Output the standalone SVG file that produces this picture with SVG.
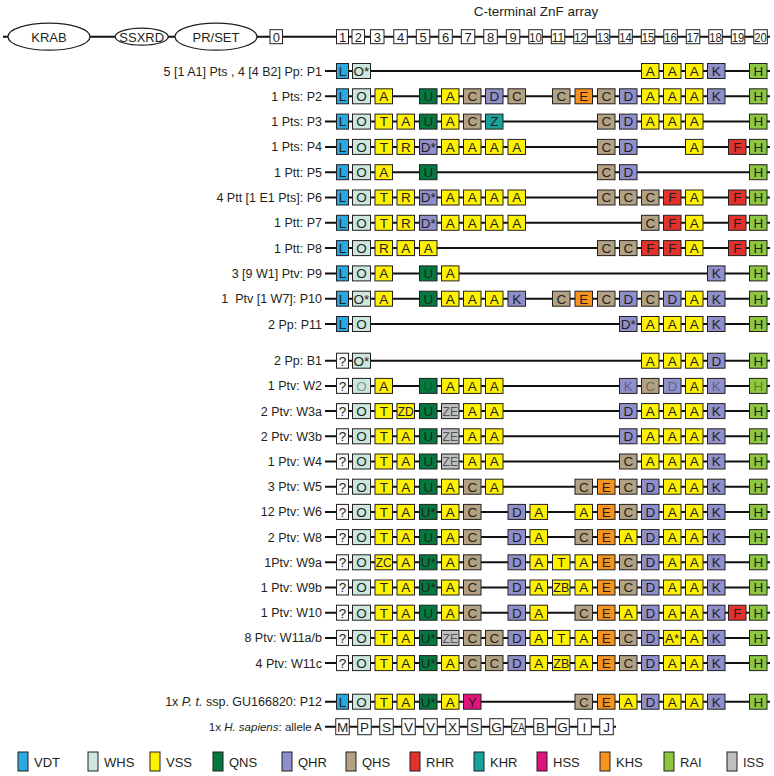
<svg xmlns="http://www.w3.org/2000/svg" width="774" height="776" viewBox="0 0 774 776">
<style>
text{font-family:"Liberation Sans",Arial,sans-serif;fill:#231f20}
.lab{font-size:12.5px;text-anchor:end}
.t{font-size:13.5px;text-anchor:middle}
.h{font-size:13px;text-anchor:middle}
rect{stroke:#231f20;stroke-width:1}
.ln{stroke:#111;stroke-width:2;fill:none}
.vdt{fill:#29a9e0}.whs{fill:#cbe7df}.vss{fill:#fff200}.qns{fill:#04793f}.qhr{fill:#8f8fcb}.qhs{fill:#b3a184}.rhr{fill:#e3312c}.khr{fill:#17a39b}.hss{fill:#e3137c}.khs{fill:#f7941d}.rai{fill:#8dc63f}.iss{fill:#bdbfc1}.unk{fill:#f7f7f7}.wht{fill:#fff}
.f{fill-opacity:.45}.g{fill:#555}
.ell{fill:#fff;stroke:#231f20;stroke-width:1.2}
.leg{font-size:13px}
</style>
<g id="connectors">
<line class="ln" x1="3" y1="36.7" x2="770" y2="36.7"/>
<line class="ln" x1="325" y1="71" x2="770" y2="71"/>
<line class="ln" x1="325" y1="96.3" x2="770" y2="96.3"/>
<line class="ln" x1="325" y1="121.6" x2="770" y2="121.6"/>
<line class="ln" x1="325" y1="146.9" x2="770" y2="146.9"/>
<line class="ln" x1="325" y1="172.2" x2="770" y2="172.2"/>
<line class="ln" x1="325" y1="197.5" x2="770" y2="197.5"/>
<line class="ln" x1="325" y1="222.8" x2="770" y2="222.8"/>
<line class="ln" x1="325" y1="248.1" x2="770" y2="248.1"/>
<line class="ln" x1="325" y1="273.4" x2="770" y2="273.4"/>
<line class="ln" x1="325" y1="298.7" x2="770" y2="298.7"/>
<line class="ln" x1="325" y1="324" x2="770" y2="324"/>
<line class="ln" x1="325" y1="360.7" x2="770" y2="360.7"/>
<line class="ln" x1="325" y1="385.9" x2="770" y2="385.9"/>
<line class="ln" x1="325" y1="411.1" x2="770" y2="411.1"/>
<line class="ln" x1="325" y1="436.3" x2="770" y2="436.3"/>
<line class="ln" x1="325" y1="461.5" x2="770" y2="461.5"/>
<line class="ln" x1="325" y1="486.7" x2="770" y2="486.7"/>
<line class="ln" x1="325" y1="511.9" x2="770" y2="511.9"/>
<line class="ln" x1="325" y1="537.1" x2="770" y2="537.1"/>
<line class="ln" x1="325" y1="562.3" x2="770" y2="562.3"/>
<line class="ln" x1="325" y1="587.5" x2="770" y2="587.5"/>
<line class="ln" x1="325" y1="612.7" x2="770" y2="612.7"/>
<line class="ln" x1="325" y1="637.9" x2="770" y2="637.9"/>
<line class="ln" x1="325" y1="663.1" x2="770" y2="663.1"/>
<line class="ln" x1="325" y1="701.7" x2="770" y2="701.7"/>
<line class="ln" x1="325" y1="726.7" x2="616" y2="726.7"/>
</g>

<g id="header">
<ellipse class="ell" cx="49" cy="36.7" rx="41" ry="13.5"/><text class="h" x="49" y="41.5">KRAB</text>
<ellipse class="ell" cx="141.7" cy="36.7" rx="26.5" ry="8.5"/><text class="h" x="141.7" y="41.5">SSXRD</text>
<ellipse class="ell" cx="216" cy="36.7" rx="41" ry="13.5"/><text class="h" x="216" y="41.5">PR/SET</text>
<text class="h" x="536" y="16" style="font-size:13.5px">C-terminal ZnF array</text>
<rect class="wht" x="270" y="29.7" width="12.5" height="14"/><text class="h" x="276.25" y="41.5">0</text>
<rect class="wht" x="336.5" y="29.7" width="12" height="14"/><text class="h" x="342.5" y="41.5">1</text>
<rect class="wht" x="352" y="29.7" width="12.5" height="14"/><text class="h" x="358.25" y="41.5">2</text>
<rect class="wht" x="370.5" y="29.7" width="13.5" height="14"/><text class="h" x="377.25" y="41.5">3</text>
<rect class="wht" x="393.8" y="29.7" width="13.5" height="14"/><text class="h" x="400.55" y="41.5">4</text>
<rect class="wht" x="416.3" y="29.7" width="13.5" height="14"/><text class="h" x="423.05" y="41.5">5</text>
<rect class="wht" x="438.8" y="29.7" width="13.5" height="14"/><text class="h" x="445.55" y="41.5">6</text>
<rect class="wht" x="461.3" y="29.7" width="13.5" height="14"/><text class="h" x="468.05" y="41.5">7</text>
<rect class="wht" x="483.8" y="29.7" width="13.5" height="14"/><text class="h" x="490.55" y="41.5">8</text>
<rect class="wht" x="506.3" y="29.7" width="13.5" height="14"/><text class="h" x="513.05" y="41.5">9</text>
<rect class="wht" x="528.8" y="29.7" width="13.5" height="14"/><text class="h" x="535.55" y="41.5" textLength="12.5" lengthAdjust="spacingAndGlyphs">10</text>
<rect class="wht" x="551.3" y="29.7" width="13.5" height="14"/><text class="h" x="558.05" y="41.5" textLength="12.5" lengthAdjust="spacingAndGlyphs">11</text>
<rect class="wht" x="573.8" y="29.7" width="13.5" height="14"/><text class="h" x="580.55" y="41.5" textLength="12.5" lengthAdjust="spacingAndGlyphs">12</text>
<rect class="wht" x="596.3" y="29.7" width="13.5" height="14"/><text class="h" x="603.05" y="41.5" textLength="12.5" lengthAdjust="spacingAndGlyphs">13</text>
<rect class="wht" x="618.8" y="29.7" width="13.5" height="14"/><text class="h" x="625.55" y="41.5" textLength="12.5" lengthAdjust="spacingAndGlyphs">14</text>
<rect class="wht" x="641.3" y="29.7" width="13.5" height="14"/><text class="h" x="648.05" y="41.5" textLength="12.5" lengthAdjust="spacingAndGlyphs">15</text>
<rect class="wht" x="663.8" y="29.7" width="13.5" height="14"/><text class="h" x="670.55" y="41.5" textLength="12.5" lengthAdjust="spacingAndGlyphs">16</text>
<rect class="wht" x="686.3" y="29.7" width="13.5" height="14"/><text class="h" x="693.05" y="41.5" textLength="12.5" lengthAdjust="spacingAndGlyphs">17</text>
<rect class="wht" x="708.8" y="29.7" width="13.5" height="14"/><text class="h" x="715.55" y="41.5" textLength="12.5" lengthAdjust="spacingAndGlyphs">18</text>
<rect class="wht" x="731.3" y="29.7" width="13.5" height="14"/><text class="h" x="738.05" y="41.5" textLength="12.5" lengthAdjust="spacingAndGlyphs">19</text>
<rect class="wht" x="753.8" y="29.7" width="13.5" height="14"/><text class="h" x="760.55" y="41.5" textLength="12.5" lengthAdjust="spacingAndGlyphs">20</text>
</g>

<g id="P1" transform="translate(0,71)">
<text class="lab" x="322" y="4.5">5 [1 A1] Pts , 4 [4 B2] Pp: P1</text>
<rect class="vdt" x="336.5" y="-7.5" width="12" height="15"/><text class="t" x="342.5" y="4.8">L</text>
<rect class="whs" x="352.5" y="-7.5" width="18" height="15"/><text class="t" x="361.5" y="4.8">O*</text>
<rect class="vss" x="641.5" y="-7.5" width="17.5" height="15"/><text class="t" x="650.25" y="4.8">A</text>
<rect class="vss" x="663.5" y="-7.5" width="17.5" height="15"/><text class="t" x="672.25" y="4.8">A</text>
<rect class="vss" x="685.5" y="-7.5" width="17.5" height="15"/><text class="t" x="694.25" y="4.8">A</text>
<rect class="qhr" x="707.5" y="-7.5" width="17.5" height="15"/><text class="t" x="716.25" y="4.8">K</text>
<rect class="rai" x="749.5" y="-7.5" width="17.5" height="15"/><text class="t" x="758.25" y="4.8">H</text>
</g>

<g id="P2" transform="translate(0,96.3)">
<text class="lab" x="322" y="4.5">1 Pts: P2</text>
<rect class="vdt" x="336.5" y="-7.5" width="12" height="15"/><text class="t" x="342.5" y="4.8">L</text>
<rect class="whs" x="352.5" y="-7.5" width="18" height="15"/><text class="t" x="361.5" y="4.8">O</text>
<rect class="vss" x="375" y="-7.5" width="17.5" height="15"/><text class="t" x="383.75" y="4.8">A</text>
<rect class="qns" x="419.5" y="-7.5" width="17.5" height="15"/><text class="t" x="428.25" y="4.8">U</text>
<rect class="vss" x="441.5" y="-7.5" width="17.5" height="15"/><text class="t" x="450.25" y="4.8">A</text>
<rect class="qhs" x="463.5" y="-7.5" width="17.5" height="15"/><text class="t" x="472.25" y="4.8">C</text>
<rect class="qhr" x="485.5" y="-7.5" width="17.5" height="15"/><text class="t" x="494.25" y="4.8">D</text>
<rect class="qhs" x="508" y="-7.5" width="17.5" height="15"/><text class="t" x="516.75" y="4.8">C</text>
<rect class="qhs" x="552.5" y="-7.5" width="17.5" height="15"/><text class="t" x="561.25" y="4.8">C</text>
<rect class="khs" x="575" y="-7.5" width="17.5" height="15"/><text class="t" x="583.75" y="4.8">E</text>
<rect class="qhs" x="597.5" y="-7.5" width="17.5" height="15"/><text class="t" x="606.25" y="4.8">C</text>
<rect class="qhr" x="619.5" y="-7.5" width="17.5" height="15"/><text class="t" x="628.25" y="4.8">D</text>
<rect class="vss" x="641.5" y="-7.5" width="17.5" height="15"/><text class="t" x="650.25" y="4.8">A</text>
<rect class="vss" x="663.5" y="-7.5" width="17.5" height="15"/><text class="t" x="672.25" y="4.8">A</text>
<rect class="vss" x="685.5" y="-7.5" width="17.5" height="15"/><text class="t" x="694.25" y="4.8">A</text>
<rect class="qhr" x="707.5" y="-7.5" width="17.5" height="15"/><text class="t" x="716.25" y="4.8">K</text>
<rect class="rai" x="749.5" y="-7.5" width="17.5" height="15"/><text class="t" x="758.25" y="4.8">H</text>
</g>

<g id="P3" transform="translate(0,121.6)">
<text class="lab" x="322" y="4.5">1 Pts: P3</text>
<rect class="vdt" x="336.5" y="-7.5" width="12" height="15"/><text class="t" x="342.5" y="4.8">L</text>
<rect class="whs" x="352.5" y="-7.5" width="18" height="15"/><text class="t" x="361.5" y="4.8">O</text>
<rect class="vss" x="375" y="-7.5" width="17.5" height="15"/><text class="t" x="383.75" y="4.8">T</text>
<rect class="vss" x="397" y="-7.5" width="17.5" height="15"/><text class="t" x="405.75" y="4.8">A</text>
<rect class="qns" x="419.5" y="-7.5" width="17.5" height="15"/><text class="t" x="428.25" y="4.8">U</text>
<rect class="vss" x="441.5" y="-7.5" width="17.5" height="15"/><text class="t" x="450.25" y="4.8">A</text>
<rect class="qhs" x="463.5" y="-7.5" width="17.5" height="15"/><text class="t" x="472.25" y="4.8">C</text>
<rect class="khr" x="485.5" y="-7.5" width="17.5" height="15"/><text class="t" x="494.25" y="4.8">Z</text>
<rect class="qhs" x="597.5" y="-7.5" width="17.5" height="15"/><text class="t" x="606.25" y="4.8">C</text>
<rect class="qhr" x="619.5" y="-7.5" width="17.5" height="15"/><text class="t" x="628.25" y="4.8">D</text>
<rect class="vss" x="641.5" y="-7.5" width="17.5" height="15"/><text class="t" x="650.25" y="4.8">A</text>
<rect class="vss" x="663.5" y="-7.5" width="17.5" height="15"/><text class="t" x="672.25" y="4.8">A</text>
<rect class="vss" x="685.5" y="-7.5" width="17.5" height="15"/><text class="t" x="694.25" y="4.8">A</text>
<rect class="rai" x="749.5" y="-7.5" width="17.5" height="15"/><text class="t" x="758.25" y="4.8">H</text>
</g>

<g id="P4" transform="translate(0,146.9)">
<text class="lab" x="322" y="4.5">1 Pts: P4</text>
<rect class="vdt" x="336.5" y="-7.5" width="12" height="15"/><text class="t" x="342.5" y="4.8">L</text>
<rect class="whs" x="352.5" y="-7.5" width="18" height="15"/><text class="t" x="361.5" y="4.8">O</text>
<rect class="vss" x="375" y="-7.5" width="17.5" height="15"/><text class="t" x="383.75" y="4.8">T</text>
<rect class="vss" x="397" y="-7.5" width="17.5" height="15"/><text class="t" x="405.75" y="4.8">R</text>
<rect class="qhr" x="419.5" y="-7.5" width="17.5" height="15"/><text class="t" x="428.25" y="4.8">D*</text>
<rect class="vss" x="441.5" y="-7.5" width="17.5" height="15"/><text class="t" x="450.25" y="4.8">A</text>
<rect class="vss" x="463.5" y="-7.5" width="17.5" height="15"/><text class="t" x="472.25" y="4.8">A</text>
<rect class="vss" x="485.5" y="-7.5" width="17.5" height="15"/><text class="t" x="494.25" y="4.8">A</text>
<rect class="vss" x="508" y="-7.5" width="17.5" height="15"/><text class="t" x="516.75" y="4.8">A</text>
<rect class="qhs" x="597.5" y="-7.5" width="17.5" height="15"/><text class="t" x="606.25" y="4.8">C</text>
<rect class="qhr" x="619.5" y="-7.5" width="17.5" height="15"/><text class="t" x="628.25" y="4.8">D</text>
<rect class="vss" x="685.5" y="-7.5" width="17.5" height="15"/><text class="t" x="694.25" y="4.8">A</text>
<rect class="rhr" x="728.5" y="-7.5" width="17.5" height="15"/><text class="t" x="737.25" y="4.8">F</text>
<rect class="rai" x="749.5" y="-7.5" width="17.5" height="15"/><text class="t" x="758.25" y="4.8">H</text>
</g>

<g id="P5" transform="translate(0,172.2)">
<text class="lab" x="322" y="4.5">1 Ptt: P5</text>
<rect class="vdt" x="336.5" y="-7.5" width="12" height="15"/><text class="t" x="342.5" y="4.8">L</text>
<rect class="whs" x="352.5" y="-7.5" width="18" height="15"/><text class="t" x="361.5" y="4.8">O</text>
<rect class="vss" x="375" y="-7.5" width="17.5" height="15"/><text class="t" x="383.75" y="4.8">A</text>
<rect class="qns" x="419.5" y="-7.5" width="17.5" height="15"/><text class="t" x="428.25" y="4.8">U</text>
<rect class="qhs" x="597.5" y="-7.5" width="17.5" height="15"/><text class="t" x="606.25" y="4.8">C</text>
<rect class="qhr" x="619.5" y="-7.5" width="17.5" height="15"/><text class="t" x="628.25" y="4.8">D</text>
<rect class="rai" x="749.5" y="-7.5" width="17.5" height="15"/><text class="t" x="758.25" y="4.8">H</text>
</g>

<g id="P6" transform="translate(0,197.5)">
<text class="lab" x="322" y="4.5">4 Ptt [1 E1 Pts]: P6</text>
<rect class="vdt" x="336.5" y="-7.5" width="12" height="15"/><text class="t" x="342.5" y="4.8">L</text>
<rect class="whs" x="352.5" y="-7.5" width="18" height="15"/><text class="t" x="361.5" y="4.8">O</text>
<rect class="vss" x="375" y="-7.5" width="17.5" height="15"/><text class="t" x="383.75" y="4.8">T</text>
<rect class="vss" x="397" y="-7.5" width="17.5" height="15"/><text class="t" x="405.75" y="4.8">R</text>
<rect class="qhr" x="419.5" y="-7.5" width="17.5" height="15"/><text class="t" x="428.25" y="4.8">D*</text>
<rect class="vss" x="441.5" y="-7.5" width="17.5" height="15"/><text class="t" x="450.25" y="4.8">A</text>
<rect class="vss" x="463.5" y="-7.5" width="17.5" height="15"/><text class="t" x="472.25" y="4.8">A</text>
<rect class="vss" x="485.5" y="-7.5" width="17.5" height="15"/><text class="t" x="494.25" y="4.8">A</text>
<rect class="vss" x="508" y="-7.5" width="17.5" height="15"/><text class="t" x="516.75" y="4.8">A</text>
<rect class="qhs" x="597.5" y="-7.5" width="17.5" height="15"/><text class="t" x="606.25" y="4.8">C</text>
<rect class="qhs" x="619.5" y="-7.5" width="17.5" height="15"/><text class="t" x="628.25" y="4.8">C</text>
<rect class="qhs" x="641.5" y="-7.5" width="17.5" height="15"/><text class="t" x="650.25" y="4.8">C</text>
<rect class="rhr" x="663.5" y="-7.5" width="17.5" height="15"/><text class="t" x="672.25" y="4.8">F</text>
<rect class="vss" x="685.5" y="-7.5" width="17.5" height="15"/><text class="t" x="694.25" y="4.8">A</text>
<rect class="rhr" x="728.5" y="-7.5" width="17.5" height="15"/><text class="t" x="737.25" y="4.8">F</text>
<rect class="rai" x="749.5" y="-7.5" width="17.5" height="15"/><text class="t" x="758.25" y="4.8">H</text>
</g>

<g id="P7" transform="translate(0,222.8)">
<text class="lab" x="322" y="4.5">1 Ptt: P7</text>
<rect class="vdt" x="336.5" y="-7.5" width="12" height="15"/><text class="t" x="342.5" y="4.8">L</text>
<rect class="whs" x="352.5" y="-7.5" width="18" height="15"/><text class="t" x="361.5" y="4.8">O</text>
<rect class="vss" x="375" y="-7.5" width="17.5" height="15"/><text class="t" x="383.75" y="4.8">T</text>
<rect class="vss" x="397" y="-7.5" width="17.5" height="15"/><text class="t" x="405.75" y="4.8">R</text>
<rect class="qhr" x="419.5" y="-7.5" width="17.5" height="15"/><text class="t" x="428.25" y="4.8">D*</text>
<rect class="vss" x="441.5" y="-7.5" width="17.5" height="15"/><text class="t" x="450.25" y="4.8">A</text>
<rect class="vss" x="463.5" y="-7.5" width="17.5" height="15"/><text class="t" x="472.25" y="4.8">A</text>
<rect class="vss" x="485.5" y="-7.5" width="17.5" height="15"/><text class="t" x="494.25" y="4.8">A</text>
<rect class="vss" x="508" y="-7.5" width="17.5" height="15"/><text class="t" x="516.75" y="4.8">A</text>
<rect class="qhs" x="641.5" y="-7.5" width="17.5" height="15"/><text class="t" x="650.25" y="4.8">C</text>
<rect class="rhr" x="663.5" y="-7.5" width="17.5" height="15"/><text class="t" x="672.25" y="4.8">F</text>
<rect class="vss" x="685.5" y="-7.5" width="17.5" height="15"/><text class="t" x="694.25" y="4.8">A</text>
<rect class="rhr" x="728.5" y="-7.5" width="17.5" height="15"/><text class="t" x="737.25" y="4.8">F</text>
<rect class="rai" x="749.5" y="-7.5" width="17.5" height="15"/><text class="t" x="758.25" y="4.8">H</text>
</g>

<g id="P8" transform="translate(0,248.1)">
<text class="lab" x="322" y="4.5">1 Ptt: P8</text>
<rect class="vdt" x="336.5" y="-7.5" width="12" height="15"/><text class="t" x="342.5" y="4.8">L</text>
<rect class="whs" x="352.5" y="-7.5" width="18" height="15"/><text class="t" x="361.5" y="4.8">O</text>
<rect class="vss" x="375" y="-7.5" width="17.5" height="15"/><text class="t" x="383.75" y="4.8">R</text>
<rect class="vss" x="397" y="-7.5" width="17.5" height="15"/><text class="t" x="405.75" y="4.8">A</text>
<rect class="vss" x="419.5" y="-7.5" width="17.5" height="15"/><text class="t" x="428.25" y="4.8">A</text>
<rect class="qhs" x="597.5" y="-7.5" width="17.5" height="15"/><text class="t" x="606.25" y="4.8">C</text>
<rect class="qhs" x="619.5" y="-7.5" width="17.5" height="15"/><text class="t" x="628.25" y="4.8">C</text>
<rect class="rhr" x="641.5" y="-7.5" width="17.5" height="15"/><text class="t" x="650.25" y="4.8">F</text>
<rect class="rhr" x="663.5" y="-7.5" width="17.5" height="15"/><text class="t" x="672.25" y="4.8">F</text>
<rect class="vss" x="685.5" y="-7.5" width="17.5" height="15"/><text class="t" x="694.25" y="4.8">A</text>
<rect class="rhr" x="728.5" y="-7.5" width="17.5" height="15"/><text class="t" x="737.25" y="4.8">F</text>
<rect class="rai" x="749.5" y="-7.5" width="17.5" height="15"/><text class="t" x="758.25" y="4.8">H</text>
</g>

<g id="P9" transform="translate(0,273.4)">
<text class="lab" x="322" y="4.5">3 [9 W1] Ptv: P9</text>
<rect class="vdt" x="336.5" y="-7.5" width="12" height="15"/><text class="t" x="342.5" y="4.8">L</text>
<rect class="whs" x="352.5" y="-7.5" width="18" height="15"/><text class="t" x="361.5" y="4.8">O</text>
<rect class="vss" x="375" y="-7.5" width="17.5" height="15"/><text class="t" x="383.75" y="4.8">A</text>
<rect class="qns" x="419.5" y="-7.5" width="17.5" height="15"/><text class="t" x="428.25" y="4.8">U</text>
<rect class="vss" x="441.5" y="-7.5" width="17.5" height="15"/><text class="t" x="450.25" y="4.8">A</text>
<rect class="qhr" x="707.5" y="-7.5" width="17.5" height="15"/><text class="t" x="716.25" y="4.8">K</text>
<rect class="rai" x="749.5" y="-7.5" width="17.5" height="15"/><text class="t" x="758.25" y="4.8">H</text>
</g>

<g id="P10" transform="translate(0,298.7)">
<text class="lab" x="322" y="4.5">1&#160; Ptv [1 W7]: P10</text>
<rect class="vdt" x="336.5" y="-7.5" width="12" height="15"/><text class="t" x="342.5" y="4.8">L</text>
<rect class="whs" x="352.5" y="-7.5" width="18" height="15"/><text class="t" x="361.5" y="4.8">O*</text>
<rect class="vss" x="375" y="-7.5" width="17.5" height="15"/><text class="t" x="383.75" y="4.8">A</text>
<rect class="qns" x="419.5" y="-7.5" width="17.5" height="15"/><text class="t" x="428.25" y="4.8">U</text>
<rect class="vss" x="441.5" y="-7.5" width="17.5" height="15"/><text class="t" x="450.25" y="4.8">A</text>
<rect class="vss" x="463.5" y="-7.5" width="17.5" height="15"/><text class="t" x="472.25" y="4.8">A</text>
<rect class="vss" x="485.5" y="-7.5" width="17.5" height="15"/><text class="t" x="494.25" y="4.8">A</text>
<rect class="qhr" x="508" y="-7.5" width="17.5" height="15"/><text class="t" x="516.75" y="4.8">K</text>
<rect class="qhs" x="552.5" y="-7.5" width="17.5" height="15"/><text class="t" x="561.25" y="4.8">C</text>
<rect class="khs" x="575" y="-7.5" width="17.5" height="15"/><text class="t" x="583.75" y="4.8">E</text>
<rect class="qhs" x="597.5" y="-7.5" width="17.5" height="15"/><text class="t" x="606.25" y="4.8">C</text>
<rect class="qhr" x="619.5" y="-7.5" width="17.5" height="15"/><text class="t" x="628.25" y="4.8">D</text>
<rect class="qhs" x="641.5" y="-7.5" width="17.5" height="15"/><text class="t" x="650.25" y="4.8">C</text>
<rect class="qhr" x="663.5" y="-7.5" width="17.5" height="15"/><text class="t" x="672.25" y="4.8">D</text>
<rect class="vss" x="685.5" y="-7.5" width="17.5" height="15"/><text class="t" x="694.25" y="4.8">A</text>
<rect class="qhr" x="707.5" y="-7.5" width="17.5" height="15"/><text class="t" x="716.25" y="4.8">K</text>
<rect class="rai" x="749.5" y="-7.5" width="17.5" height="15"/><text class="t" x="758.25" y="4.8">H</text>
</g>

<g id="P11" transform="translate(0,324)">
<text class="lab" x="322" y="4.5">2 Pp: P11</text>
<rect class="vdt" x="336.5" y="-7.5" width="12" height="15"/><text class="t" x="342.5" y="4.8">L</text>
<rect class="whs" x="352.5" y="-7.5" width="18" height="15"/><text class="t" x="361.5" y="4.8">O</text>
<rect class="qhr" x="619.5" y="-7.5" width="17.5" height="15"/><text class="t" x="628.25" y="4.8">D*</text>
<rect class="vss" x="641.5" y="-7.5" width="17.5" height="15"/><text class="t" x="650.25" y="4.8">A</text>
<rect class="vss" x="663.5" y="-7.5" width="17.5" height="15"/><text class="t" x="672.25" y="4.8">A</text>
<rect class="vss" x="685.5" y="-7.5" width="17.5" height="15"/><text class="t" x="694.25" y="4.8">A</text>
<rect class="qhr" x="707.5" y="-7.5" width="17.5" height="15"/><text class="t" x="716.25" y="4.8">K</text>
<rect class="rai" x="749.5" y="-7.5" width="17.5" height="15"/><text class="t" x="758.25" y="4.8">H</text>
</g>

<g id="B1" transform="translate(0,360.7)">
<text class="lab" x="322" y="4.5">2 Pp: B1</text>
<rect class="unk" x="336.5" y="-7.5" width="12" height="15"/><text class="t" x="342.5" y="4.8">?</text>
<rect class="whs" x="352.5" y="-7.5" width="18" height="15"/><text class="t" x="361.5" y="4.8">O*</text>
<rect class="vss" x="641.5" y="-7.5" width="17.5" height="15"/><text class="t" x="650.25" y="4.8">A</text>
<rect class="vss" x="663.5" y="-7.5" width="17.5" height="15"/><text class="t" x="672.25" y="4.8">A</text>
<rect class="vss" x="685.5" y="-7.5" width="17.5" height="15"/><text class="t" x="694.25" y="4.8">A</text>
<rect class="qhr" x="707.5" y="-7.5" width="17.5" height="15"/><text class="t" x="716.25" y="4.8">D</text>
<rect class="rai" x="749.5" y="-7.5" width="17.5" height="15"/><text class="t" x="758.25" y="4.8">H</text>
</g>

<g id="W2" transform="translate(0,385.9)">
<text class="lab" x="322" y="4.5">1 Ptv: W2</text>
<rect class="unk" x="336.5" y="-7.5" width="12" height="15"/><text class="t" x="342.5" y="4.8">?</text>
<rect class="whs" x="352.5" y="-7.5" width="18" height="15"/><text class="t f" x="361.5" y="4.8">O</text>
<rect class="vss" x="375" y="-7.5" width="17.5" height="15"/><text class="t" x="383.75" y="4.8">A</text>
<rect class="qns" x="419.5" y="-7.5" width="17.5" height="15"/><text class="t f" x="428.25" y="4.8">U</text>
<rect class="vss" x="441.5" y="-7.5" width="17.5" height="15"/><text class="t" x="450.25" y="4.8">A</text>
<rect class="vss" x="463.5" y="-7.5" width="17.5" height="15"/><text class="t" x="472.25" y="4.8">A</text>
<rect class="vss" x="485.5" y="-7.5" width="17.5" height="15"/><text class="t" x="494.25" y="4.8">A</text>
<rect class="qhr" x="619.5" y="-7.5" width="17.5" height="15"/><text class="t f" x="628.25" y="4.8">K</text>
<rect class="qhs" x="641.5" y="-7.5" width="17.5" height="15"/><text class="t f" x="650.25" y="4.8">C</text>
<rect class="qhr" x="663.5" y="-7.5" width="17.5" height="15"/><text class="t f" x="672.25" y="4.8">D</text>
<rect class="vss" x="685.5" y="-7.5" width="17.5" height="15"/><text class="t" x="694.25" y="4.8">A</text>
<rect class="qhr" x="707.5" y="-7.5" width="17.5" height="15"/><text class="t f" x="716.25" y="4.8">K</text>
<rect class="rai" x="749.5" y="-7.5" width="17.5" height="15"/><text class="t f" x="758.25" y="4.8">H</text>
</g>

<g id="W3a" transform="translate(0,411.1)">
<text class="lab" x="322" y="4.5">2 Ptv: W3a</text>
<rect class="unk" x="336.5" y="-7.5" width="12" height="15"/><text class="t" x="342.5" y="4.8">?</text>
<rect class="whs" x="352.5" y="-7.5" width="18" height="15"/><text class="t" x="361.5" y="4.8">O</text>
<rect class="vss" x="375" y="-7.5" width="17.5" height="15"/><text class="t" x="383.75" y="4.8">T</text>
<rect class="vss" x="397" y="-7.5" width="17.5" height="15"/><text class="t" x="405.75" y="4.8" textLength="16" lengthAdjust="spacingAndGlyphs">ZD</text>
<rect class="qns" x="419.5" y="-7.5" width="17.5" height="15"/><text class="t" x="428.25" y="4.8">U</text>
<rect class="iss" x="441.5" y="-7.5" width="17.5" height="15"/><text class="t g" x="450.25" y="4.8" textLength="15.5" lengthAdjust="spacingAndGlyphs">ZE</text>
<rect class="vss" x="463.5" y="-7.5" width="17.5" height="15"/><text class="t" x="472.25" y="4.8">A</text>
<rect class="vss" x="485.5" y="-7.5" width="17.5" height="15"/><text class="t" x="494.25" y="4.8">A</text>
<rect class="qhr" x="619.5" y="-7.5" width="17.5" height="15"/><text class="t" x="628.25" y="4.8">D</text>
<rect class="vss" x="641.5" y="-7.5" width="17.5" height="15"/><text class="t" x="650.25" y="4.8">A</text>
<rect class="vss" x="663.5" y="-7.5" width="17.5" height="15"/><text class="t" x="672.25" y="4.8">A</text>
<rect class="vss" x="685.5" y="-7.5" width="17.5" height="15"/><text class="t" x="694.25" y="4.8">A</text>
<rect class="qhr" x="707.5" y="-7.5" width="17.5" height="15"/><text class="t" x="716.25" y="4.8">K</text>
<rect class="rai" x="749.5" y="-7.5" width="17.5" height="15"/><text class="t" x="758.25" y="4.8">H</text>
</g>

<g id="W3b" transform="translate(0,436.3)">
<text class="lab" x="322" y="4.5">2 Ptv: W3b</text>
<rect class="unk" x="336.5" y="-7.5" width="12" height="15"/><text class="t" x="342.5" y="4.8">?</text>
<rect class="whs" x="352.5" y="-7.5" width="18" height="15"/><text class="t" x="361.5" y="4.8">O</text>
<rect class="vss" x="375" y="-7.5" width="17.5" height="15"/><text class="t" x="383.75" y="4.8">T</text>
<rect class="vss" x="397" y="-7.5" width="17.5" height="15"/><text class="t" x="405.75" y="4.8">A</text>
<rect class="qns" x="419.5" y="-7.5" width="17.5" height="15"/><text class="t" x="428.25" y="4.8">U</text>
<rect class="iss" x="441.5" y="-7.5" width="17.5" height="15"/><text class="t g" x="450.25" y="4.8" textLength="15.5" lengthAdjust="spacingAndGlyphs">ZE</text>
<rect class="vss" x="463.5" y="-7.5" width="17.5" height="15"/><text class="t" x="472.25" y="4.8">A</text>
<rect class="vss" x="485.5" y="-7.5" width="17.5" height="15"/><text class="t" x="494.25" y="4.8">A</text>
<rect class="qhr" x="619.5" y="-7.5" width="17.5" height="15"/><text class="t" x="628.25" y="4.8">D</text>
<rect class="vss" x="641.5" y="-7.5" width="17.5" height="15"/><text class="t" x="650.25" y="4.8">A</text>
<rect class="vss" x="663.5" y="-7.5" width="17.5" height="15"/><text class="t" x="672.25" y="4.8">A</text>
<rect class="vss" x="685.5" y="-7.5" width="17.5" height="15"/><text class="t" x="694.25" y="4.8">A</text>
<rect class="qhr" x="707.5" y="-7.5" width="17.5" height="15"/><text class="t" x="716.25" y="4.8">K</text>
<rect class="rai" x="749.5" y="-7.5" width="17.5" height="15"/><text class="t" x="758.25" y="4.8">H</text>
</g>

<g id="W4" transform="translate(0,461.5)">
<text class="lab" x="322" y="4.5">1 Ptv: W4</text>
<rect class="unk" x="336.5" y="-7.5" width="12" height="15"/><text class="t" x="342.5" y="4.8">?</text>
<rect class="whs" x="352.5" y="-7.5" width="18" height="15"/><text class="t" x="361.5" y="4.8">O</text>
<rect class="vss" x="375" y="-7.5" width="17.5" height="15"/><text class="t" x="383.75" y="4.8">T</text>
<rect class="vss" x="397" y="-7.5" width="17.5" height="15"/><text class="t" x="405.75" y="4.8">A</text>
<rect class="qns" x="419.5" y="-7.5" width="17.5" height="15"/><text class="t" x="428.25" y="4.8">U</text>
<rect class="iss" x="441.5" y="-7.5" width="17.5" height="15"/><text class="t g" x="450.25" y="4.8" textLength="15.5" lengthAdjust="spacingAndGlyphs">ZE</text>
<rect class="vss" x="463.5" y="-7.5" width="17.5" height="15"/><text class="t" x="472.25" y="4.8">A</text>
<rect class="vss" x="485.5" y="-7.5" width="17.5" height="15"/><text class="t" x="494.25" y="4.8">A</text>
<rect class="qhs" x="619.5" y="-7.5" width="17.5" height="15"/><text class="t" x="628.25" y="4.8">C</text>
<rect class="vss" x="641.5" y="-7.5" width="17.5" height="15"/><text class="t" x="650.25" y="4.8">A</text>
<rect class="vss" x="663.5" y="-7.5" width="17.5" height="15"/><text class="t" x="672.25" y="4.8">A</text>
<rect class="vss" x="685.5" y="-7.5" width="17.5" height="15"/><text class="t" x="694.25" y="4.8">A</text>
<rect class="qhr" x="707.5" y="-7.5" width="17.5" height="15"/><text class="t" x="716.25" y="4.8">K</text>
<rect class="rai" x="749.5" y="-7.5" width="17.5" height="15"/><text class="t" x="758.25" y="4.8">H</text>
</g>

<g id="W5" transform="translate(0,486.7)">
<text class="lab" x="322" y="4.5">3 Ptv: W5</text>
<rect class="unk" x="336.5" y="-7.5" width="12" height="15"/><text class="t" x="342.5" y="4.8">?</text>
<rect class="whs" x="352.5" y="-7.5" width="18" height="15"/><text class="t" x="361.5" y="4.8">O</text>
<rect class="vss" x="375" y="-7.5" width="17.5" height="15"/><text class="t" x="383.75" y="4.8">T</text>
<rect class="vss" x="397" y="-7.5" width="17.5" height="15"/><text class="t" x="405.75" y="4.8">A</text>
<rect class="qns" x="419.5" y="-7.5" width="17.5" height="15"/><text class="t" x="428.25" y="4.8">U</text>
<rect class="vss" x="441.5" y="-7.5" width="17.5" height="15"/><text class="t" x="450.25" y="4.8">A</text>
<rect class="qhs" x="463.5" y="-7.5" width="17.5" height="15"/><text class="t" x="472.25" y="4.8">C</text>
<rect class="vss" x="485.5" y="-7.5" width="17.5" height="15"/><text class="t" x="494.25" y="4.8">A</text>
<rect class="qhs" x="575" y="-7.5" width="17.5" height="15"/><text class="t" x="583.75" y="4.8">C</text>
<rect class="khs" x="597.5" y="-7.5" width="17.5" height="15"/><text class="t" x="606.25" y="4.8">E</text>
<rect class="qhs" x="619.5" y="-7.5" width="17.5" height="15"/><text class="t" x="628.25" y="4.8">C</text>
<rect class="qhr" x="641.5" y="-7.5" width="17.5" height="15"/><text class="t" x="650.25" y="4.8">D</text>
<rect class="vss" x="663.5" y="-7.5" width="17.5" height="15"/><text class="t" x="672.25" y="4.8">A</text>
<rect class="vss" x="685.5" y="-7.5" width="17.5" height="15"/><text class="t" x="694.25" y="4.8">A</text>
<rect class="qhr" x="707.5" y="-7.5" width="17.5" height="15"/><text class="t" x="716.25" y="4.8">K</text>
<rect class="rai" x="749.5" y="-7.5" width="17.5" height="15"/><text class="t" x="758.25" y="4.8">H</text>
</g>

<g id="W6" transform="translate(0,511.9)">
<text class="lab" x="322" y="4.5">12 Ptv: W6</text>
<rect class="unk" x="336.5" y="-7.5" width="12" height="15"/><text class="t" x="342.5" y="4.8">?</text>
<rect class="whs" x="352.5" y="-7.5" width="18" height="15"/><text class="t" x="361.5" y="4.8">O</text>
<rect class="vss" x="375" y="-7.5" width="17.5" height="15"/><text class="t" x="383.75" y="4.8">T</text>
<rect class="vss" x="397" y="-7.5" width="17.5" height="15"/><text class="t" x="405.75" y="4.8">A</text>
<rect class="qns" x="419.5" y="-7.5" width="17.5" height="15"/><text class="t" x="428.25" y="4.8">U*</text>
<rect class="vss" x="441.5" y="-7.5" width="17.5" height="15"/><text class="t" x="450.25" y="4.8">A</text>
<rect class="qhs" x="463.5" y="-7.5" width="17.5" height="15"/><text class="t" x="472.25" y="4.8">C</text>
<rect class="qhr" x="508" y="-7.5" width="17.5" height="15"/><text class="t" x="516.75" y="4.8">D</text>
<rect class="vss" x="530" y="-7.5" width="17.5" height="15"/><text class="t" x="538.75" y="4.8">A</text>
<rect class="vss" x="575" y="-7.5" width="17.5" height="15"/><text class="t" x="583.75" y="4.8">A</text>
<rect class="khs" x="597.5" y="-7.5" width="17.5" height="15"/><text class="t" x="606.25" y="4.8">E</text>
<rect class="qhs" x="619.5" y="-7.5" width="17.5" height="15"/><text class="t" x="628.25" y="4.8">C</text>
<rect class="qhr" x="641.5" y="-7.5" width="17.5" height="15"/><text class="t" x="650.25" y="4.8">D</text>
<rect class="vss" x="663.5" y="-7.5" width="17.5" height="15"/><text class="t" x="672.25" y="4.8">A</text>
<rect class="vss" x="685.5" y="-7.5" width="17.5" height="15"/><text class="t" x="694.25" y="4.8">A</text>
<rect class="qhr" x="707.5" y="-7.5" width="17.5" height="15"/><text class="t" x="716.25" y="4.8">K</text>
<rect class="rai" x="749.5" y="-7.5" width="17.5" height="15"/><text class="t" x="758.25" y="4.8">H</text>
</g>

<g id="W8" transform="translate(0,537.1)">
<text class="lab" x="322" y="4.5">2 Ptv: W8</text>
<rect class="unk" x="336.5" y="-7.5" width="12" height="15"/><text class="t" x="342.5" y="4.8">?</text>
<rect class="whs" x="352.5" y="-7.5" width="18" height="15"/><text class="t" x="361.5" y="4.8">O</text>
<rect class="vss" x="375" y="-7.5" width="17.5" height="15"/><text class="t" x="383.75" y="4.8">T</text>
<rect class="vss" x="397" y="-7.5" width="17.5" height="15"/><text class="t" x="405.75" y="4.8">A</text>
<rect class="qns" x="419.5" y="-7.5" width="17.5" height="15"/><text class="t" x="428.25" y="4.8">U</text>
<rect class="vss" x="441.5" y="-7.5" width="17.5" height="15"/><text class="t" x="450.25" y="4.8">A</text>
<rect class="qhs" x="463.5" y="-7.5" width="17.5" height="15"/><text class="t" x="472.25" y="4.8">C</text>
<rect class="qhr" x="508" y="-7.5" width="17.5" height="15"/><text class="t" x="516.75" y="4.8">D</text>
<rect class="vss" x="530" y="-7.5" width="17.5" height="15"/><text class="t" x="538.75" y="4.8">A</text>
<rect class="qhs" x="575" y="-7.5" width="17.5" height="15"/><text class="t" x="583.75" y="4.8">C</text>
<rect class="khs" x="597.5" y="-7.5" width="17.5" height="15"/><text class="t" x="606.25" y="4.8">E</text>
<rect class="vss" x="619.5" y="-7.5" width="17.5" height="15"/><text class="t" x="628.25" y="4.8">A</text>
<rect class="qhr" x="641.5" y="-7.5" width="17.5" height="15"/><text class="t" x="650.25" y="4.8">D</text>
<rect class="vss" x="663.5" y="-7.5" width="17.5" height="15"/><text class="t" x="672.25" y="4.8">A</text>
<rect class="vss" x="685.5" y="-7.5" width="17.5" height="15"/><text class="t" x="694.25" y="4.8">A</text>
<rect class="qhr" x="707.5" y="-7.5" width="17.5" height="15"/><text class="t" x="716.25" y="4.8">K</text>
<rect class="rai" x="749.5" y="-7.5" width="17.5" height="15"/><text class="t" x="758.25" y="4.8">H</text>
</g>

<g id="W9a" transform="translate(0,562.3)">
<text class="lab" x="322" y="4.5">1Ptv: W9a</text>
<rect class="unk" x="336.5" y="-7.5" width="12" height="15"/><text class="t" x="342.5" y="4.8">?</text>
<rect class="whs" x="352.5" y="-7.5" width="18" height="15"/><text class="t" x="361.5" y="4.8">O</text>
<rect class="vss" x="375" y="-7.5" width="17.5" height="15"/><text class="t" x="383.75" y="4.8" textLength="16" lengthAdjust="spacingAndGlyphs">ZC</text>
<rect class="vss" x="397" y="-7.5" width="17.5" height="15"/><text class="t" x="405.75" y="4.8">A</text>
<rect class="qns" x="419.5" y="-7.5" width="17.5" height="15"/><text class="t" x="428.25" y="4.8">U*</text>
<rect class="vss" x="441.5" y="-7.5" width="17.5" height="15"/><text class="t" x="450.25" y="4.8">A</text>
<rect class="qhs" x="463.5" y="-7.5" width="17.5" height="15"/><text class="t" x="472.25" y="4.8">C</text>
<rect class="qhr" x="508" y="-7.5" width="17.5" height="15"/><text class="t" x="516.75" y="4.8">D</text>
<rect class="vss" x="530" y="-7.5" width="17.5" height="15"/><text class="t" x="538.75" y="4.8">A</text>
<rect class="vss" x="552.5" y="-7.5" width="17.5" height="15"/><text class="t" x="561.25" y="4.8">T</text>
<rect class="vss" x="575" y="-7.5" width="17.5" height="15"/><text class="t" x="583.75" y="4.8">A</text>
<rect class="khs" x="597.5" y="-7.5" width="17.5" height="15"/><text class="t" x="606.25" y="4.8">E</text>
<rect class="qhs" x="619.5" y="-7.5" width="17.5" height="15"/><text class="t" x="628.25" y="4.8">C</text>
<rect class="qhr" x="641.5" y="-7.5" width="17.5" height="15"/><text class="t" x="650.25" y="4.8">D</text>
<rect class="vss" x="663.5" y="-7.5" width="17.5" height="15"/><text class="t" x="672.25" y="4.8">A</text>
<rect class="vss" x="685.5" y="-7.5" width="17.5" height="15"/><text class="t" x="694.25" y="4.8">A</text>
<rect class="qhr" x="707.5" y="-7.5" width="17.5" height="15"/><text class="t" x="716.25" y="4.8">K</text>
<rect class="rai" x="749.5" y="-7.5" width="17.5" height="15"/><text class="t" x="758.25" y="4.8">H</text>
</g>

<g id="W9b" transform="translate(0,587.5)">
<text class="lab" x="322" y="4.5">1 Ptv: W9b</text>
<rect class="unk" x="336.5" y="-7.5" width="12" height="15"/><text class="t" x="342.5" y="4.8">?</text>
<rect class="whs" x="352.5" y="-7.5" width="18" height="15"/><text class="t" x="361.5" y="4.8">O</text>
<rect class="vss" x="375" y="-7.5" width="17.5" height="15"/><text class="t" x="383.75" y="4.8">T</text>
<rect class="vss" x="397" y="-7.5" width="17.5" height="15"/><text class="t" x="405.75" y="4.8">A</text>
<rect class="qns" x="419.5" y="-7.5" width="17.5" height="15"/><text class="t" x="428.25" y="4.8">U*</text>
<rect class="vss" x="441.5" y="-7.5" width="17.5" height="15"/><text class="t" x="450.25" y="4.8">A</text>
<rect class="qhs" x="463.5" y="-7.5" width="17.5" height="15"/><text class="t" x="472.25" y="4.8">C</text>
<rect class="qhr" x="508" y="-7.5" width="17.5" height="15"/><text class="t" x="516.75" y="4.8">D</text>
<rect class="vss" x="530" y="-7.5" width="17.5" height="15"/><text class="t" x="538.75" y="4.8">A</text>
<rect class="vss" x="552.5" y="-7.5" width="17.5" height="15"/><text class="t" x="561.25" y="4.8" textLength="16" lengthAdjust="spacingAndGlyphs">ZB</text>
<rect class="vss" x="575" y="-7.5" width="17.5" height="15"/><text class="t" x="583.75" y="4.8">A</text>
<rect class="khs" x="597.5" y="-7.5" width="17.5" height="15"/><text class="t" x="606.25" y="4.8">E</text>
<rect class="qhs" x="619.5" y="-7.5" width="17.5" height="15"/><text class="t" x="628.25" y="4.8">C</text>
<rect class="qhr" x="641.5" y="-7.5" width="17.5" height="15"/><text class="t" x="650.25" y="4.8">D</text>
<rect class="vss" x="663.5" y="-7.5" width="17.5" height="15"/><text class="t" x="672.25" y="4.8">A</text>
<rect class="vss" x="685.5" y="-7.5" width="17.5" height="15"/><text class="t" x="694.25" y="4.8">A</text>
<rect class="qhr" x="707.5" y="-7.5" width="17.5" height="15"/><text class="t" x="716.25" y="4.8">K</text>
<rect class="rai" x="749.5" y="-7.5" width="17.5" height="15"/><text class="t" x="758.25" y="4.8">H</text>
</g>

<g id="W10" transform="translate(0,612.7)">
<text class="lab" x="322" y="4.5">1 Ptv: W10</text>
<rect class="unk" x="336.5" y="-7.5" width="12" height="15"/><text class="t" x="342.5" y="4.8">?</text>
<rect class="whs" x="352.5" y="-7.5" width="18" height="15"/><text class="t" x="361.5" y="4.8">O</text>
<rect class="vss" x="375" y="-7.5" width="17.5" height="15"/><text class="t" x="383.75" y="4.8">T</text>
<rect class="vss" x="397" y="-7.5" width="17.5" height="15"/><text class="t" x="405.75" y="4.8">A</text>
<rect class="qns" x="419.5" y="-7.5" width="17.5" height="15"/><text class="t" x="428.25" y="4.8">U</text>
<rect class="vss" x="441.5" y="-7.5" width="17.5" height="15"/><text class="t" x="450.25" y="4.8">A</text>
<rect class="qhs" x="463.5" y="-7.5" width="17.5" height="15"/><text class="t" x="472.25" y="4.8">C</text>
<rect class="qhr" x="508" y="-7.5" width="17.5" height="15"/><text class="t" x="516.75" y="4.8">D</text>
<rect class="vss" x="530" y="-7.5" width="17.5" height="15"/><text class="t" x="538.75" y="4.8">A</text>
<rect class="qhs" x="575" y="-7.5" width="17.5" height="15"/><text class="t" x="583.75" y="4.8">C</text>
<rect class="khs" x="597.5" y="-7.5" width="17.5" height="15"/><text class="t" x="606.25" y="4.8">E</text>
<rect class="vss" x="619.5" y="-7.5" width="17.5" height="15"/><text class="t" x="628.25" y="4.8">A</text>
<rect class="qhr" x="641.5" y="-7.5" width="17.5" height="15"/><text class="t" x="650.25" y="4.8">D</text>
<rect class="vss" x="663.5" y="-7.5" width="17.5" height="15"/><text class="t" x="672.25" y="4.8">A</text>
<rect class="vss" x="685.5" y="-7.5" width="17.5" height="15"/><text class="t" x="694.25" y="4.8">A</text>
<rect class="qhr" x="707.5" y="-7.5" width="17.5" height="15"/><text class="t" x="716.25" y="4.8">K</text>
<rect class="rhr" x="728.5" y="-7.5" width="17.5" height="15"/><text class="t" x="737.25" y="4.8">F</text>
<rect class="rai" x="749.5" y="-7.5" width="17.5" height="15"/><text class="t" x="758.25" y="4.8">H</text>
</g>

<g id="W11ab" transform="translate(0,637.9)">
<text class="lab" x="322" y="4.5">8 Ptv: W11a/b</text>
<rect class="unk" x="336.5" y="-7.5" width="12" height="15"/><text class="t" x="342.5" y="4.8">?</text>
<rect class="whs" x="352.5" y="-7.5" width="18" height="15"/><text class="t" x="361.5" y="4.8">O</text>
<rect class="vss" x="375" y="-7.5" width="17.5" height="15"/><text class="t" x="383.75" y="4.8">T</text>
<rect class="vss" x="397" y="-7.5" width="17.5" height="15"/><text class="t" x="405.75" y="4.8">A</text>
<rect class="qns" x="419.5" y="-7.5" width="17.5" height="15"/><text class="t" x="428.25" y="4.8">U*</text>
<rect class="iss" x="441.5" y="-7.5" width="17.5" height="15"/><text class="t g" x="450.25" y="4.8" textLength="15.5" lengthAdjust="spacingAndGlyphs">ZE</text>
<rect class="qhs" x="463.5" y="-7.5" width="17.5" height="15"/><text class="t" x="472.25" y="4.8">C</text>
<rect class="qhs" x="485.5" y="-7.5" width="17.5" height="15"/><text class="t" x="494.25" y="4.8">C</text>
<rect class="qhr" x="508" y="-7.5" width="17.5" height="15"/><text class="t" x="516.75" y="4.8">D</text>
<rect class="vss" x="530" y="-7.5" width="17.5" height="15"/><text class="t" x="538.75" y="4.8">A</text>
<rect class="vss" x="552.5" y="-7.5" width="17.5" height="15"/><text class="t" x="561.25" y="4.8">T</text>
<rect class="vss" x="575" y="-7.5" width="17.5" height="15"/><text class="t" x="583.75" y="4.8">A</text>
<rect class="khs" x="597.5" y="-7.5" width="17.5" height="15"/><text class="t" x="606.25" y="4.8">E</text>
<rect class="qhs" x="619.5" y="-7.5" width="17.5" height="15"/><text class="t" x="628.25" y="4.8">C</text>
<rect class="qhr" x="641.5" y="-7.5" width="17.5" height="15"/><text class="t" x="650.25" y="4.8">D</text>
<rect class="vss" x="663.5" y="-7.5" width="17.5" height="15"/><text class="t" x="672.25" y="4.8">A*</text>
<rect class="vss" x="685.5" y="-7.5" width="17.5" height="15"/><text class="t" x="694.25" y="4.8">A</text>
<rect class="qhr" x="707.5" y="-7.5" width="17.5" height="15"/><text class="t" x="716.25" y="4.8">K</text>
<rect class="rai" x="749.5" y="-7.5" width="17.5" height="15"/><text class="t" x="758.25" y="4.8">H</text>
</g>

<g id="W11c" transform="translate(0,663.1)">
<text class="lab" x="322" y="4.5">4 Ptv: W11c</text>
<rect class="unk" x="336.5" y="-7.5" width="12" height="15"/><text class="t" x="342.5" y="4.8">?</text>
<rect class="whs" x="352.5" y="-7.5" width="18" height="15"/><text class="t" x="361.5" y="4.8">O</text>
<rect class="vss" x="375" y="-7.5" width="17.5" height="15"/><text class="t" x="383.75" y="4.8">T</text>
<rect class="vss" x="397" y="-7.5" width="17.5" height="15"/><text class="t" x="405.75" y="4.8">A</text>
<rect class="qns" x="419.5" y="-7.5" width="17.5" height="15"/><text class="t" x="428.25" y="4.8">U*</text>
<rect class="vss" x="441.5" y="-7.5" width="17.5" height="15"/><text class="t" x="450.25" y="4.8">A</text>
<rect class="qhs" x="463.5" y="-7.5" width="17.5" height="15"/><text class="t" x="472.25" y="4.8">C</text>
<rect class="qhs" x="485.5" y="-7.5" width="17.5" height="15"/><text class="t" x="494.25" y="4.8">C</text>
<rect class="qhr" x="508" y="-7.5" width="17.5" height="15"/><text class="t" x="516.75" y="4.8">D</text>
<rect class="vss" x="530" y="-7.5" width="17.5" height="15"/><text class="t" x="538.75" y="4.8">A</text>
<rect class="vss" x="552.5" y="-7.5" width="17.5" height="15"/><text class="t" x="561.25" y="4.8" textLength="16" lengthAdjust="spacingAndGlyphs">ZB</text>
<rect class="vss" x="575" y="-7.5" width="17.5" height="15"/><text class="t" x="583.75" y="4.8">A</text>
<rect class="khs" x="597.5" y="-7.5" width="17.5" height="15"/><text class="t" x="606.25" y="4.8">E</text>
<rect class="qhs" x="619.5" y="-7.5" width="17.5" height="15"/><text class="t" x="628.25" y="4.8">C</text>
<rect class="qhr" x="641.5" y="-7.5" width="17.5" height="15"/><text class="t" x="650.25" y="4.8">D</text>
<rect class="vss" x="663.5" y="-7.5" width="17.5" height="15"/><text class="t" x="672.25" y="4.8">A</text>
<rect class="vss" x="685.5" y="-7.5" width="17.5" height="15"/><text class="t" x="694.25" y="4.8">A</text>
<rect class="qhr" x="707.5" y="-7.5" width="17.5" height="15"/><text class="t" x="716.25" y="4.8">K</text>
<rect class="rai" x="749.5" y="-7.5" width="17.5" height="15"/><text class="t" x="758.25" y="4.8">H</text>
</g>

<g id="P12" transform="translate(0,701.7)">
<text class="lab" x="322" y="4.5">1x <tspan font-style="italic">P. t.</tspan> ssp. GU166820: P12</text>
<rect class="vdt" x="336.5" y="-7.5" width="12" height="15"/><text class="t" x="342.5" y="4.8">L</text>
<rect class="whs" x="352.5" y="-7.5" width="18" height="15"/><text class="t" x="361.5" y="4.8">O</text>
<rect class="vss" x="375" y="-7.5" width="17.5" height="15"/><text class="t" x="383.75" y="4.8">T</text>
<rect class="vss" x="397" y="-7.5" width="17.5" height="15"/><text class="t" x="405.75" y="4.8">A</text>
<rect class="qns" x="419.5" y="-7.5" width="17.5" height="15"/><text class="t" x="428.25" y="4.8">U*</text>
<rect class="vss" x="441.5" y="-7.5" width="17.5" height="15"/><text class="t" x="450.25" y="4.8">A</text>
<rect class="hss" x="463.5" y="-7.5" width="17.5" height="15"/><text class="t" x="472.25" y="4.8">Y</text>
<rect class="qhs" x="575" y="-7.5" width="17.5" height="15"/><text class="t" x="583.75" y="4.8">C</text>
<rect class="khs" x="597.5" y="-7.5" width="17.5" height="15"/><text class="t" x="606.25" y="4.8">E</text>
<rect class="vss" x="619.5" y="-7.5" width="17.5" height="15"/><text class="t" x="628.25" y="4.8">A</text>
<rect class="qhr" x="641.5" y="-7.5" width="17.5" height="15"/><text class="t" x="650.25" y="4.8">D</text>
<rect class="vss" x="663.5" y="-7.5" width="17.5" height="15"/><text class="t" x="672.25" y="4.8">A</text>
<rect class="vss" x="685.5" y="-7.5" width="17.5" height="15"/><text class="t" x="694.25" y="4.8">A</text>
<rect class="qhr" x="707.5" y="-7.5" width="17.5" height="15"/><text class="t" x="716.25" y="4.8">K</text>
<rect class="rai" x="749.5" y="-7.5" width="17.5" height="15"/><text class="t" x="758.25" y="4.8">H</text>
</g>

<g id="Hs" transform="translate(0,726.7)">
<text class="lab" x="322" y="4.5" style="font-size:11.5px">1x <tspan font-style="italic">H. sapiens</tspan>: allele A</text>
<rect class="wht" x="335.75" y="-8" width="13.5" height="16"/><text class="t" x="342.5" y="4.8">M</text>
<rect class="wht" x="357.75" y="-8" width="13.5" height="16"/><text class="t" x="364.5" y="4.8">P</text>
<rect class="wht" x="379.75" y="-8" width="13.5" height="16"/><text class="t" x="386.5" y="4.8">S</text>
<rect class="wht" x="401.75" y="-8" width="13.5" height="16"/><text class="t" x="408.5" y="4.8">V</text>
<rect class="wht" x="423.75" y="-8" width="13.5" height="16"/><text class="t" x="430.5" y="4.8">V</text>
<rect class="wht" x="445.75" y="-8" width="13.5" height="16"/><text class="t" x="452.5" y="4.8">X</text>
<rect class="wht" x="467.75" y="-8" width="13.5" height="16"/><text class="t" x="474.5" y="4.8">S</text>
<rect class="wht" x="489.75" y="-8" width="13.5" height="16"/><text class="t" x="496.5" y="4.8">G</text>
<rect class="wht" x="511.75" y="-8" width="13.5" height="16"/><text class="t" x="518.5" y="4.8" textLength="12.5" lengthAdjust="spacingAndGlyphs">ZA</text>
<rect class="wht" x="533.75" y="-8" width="13.5" height="16"/><text class="t" x="540.5" y="4.8">B</text>
<rect class="wht" x="555.75" y="-8" width="13.5" height="16"/><text class="t" x="562.5" y="4.8">G</text>
<rect class="wht" x="577.75" y="-8" width="13.5" height="16"/><text class="t" x="584.5" y="4.8">I</text>
<rect class="wht" x="599.75" y="-8" width="13.5" height="16"/><text class="t" x="606.5" y="4.8">J</text>
</g>

<g id="legend">
<rect class="vdt" x="18" y="752" width="10" height="19"/><text class="leg" x="34" y="766.5">VDT</text>
<rect class="whs" x="88" y="752" width="10" height="19"/><text class="leg" x="104" y="766.5">WHS</text>
<rect class="vss" x="150" y="752" width="10" height="19"/><text class="leg" x="166" y="766.5">VSS</text>
<rect class="qns" x="213" y="752" width="10" height="19"/><text class="leg" x="229" y="766.5">QNS</text>
<rect class="qhr" x="282" y="752" width="10" height="19"/><text class="leg" x="298" y="766.5">QHR</text>
<rect class="qhs" x="346" y="752" width="10" height="19"/><text class="leg" x="362" y="766.5">QHS</text>
<rect class="rhr" x="410" y="752" width="10" height="19"/><text class="leg" x="426" y="766.5">RHR</text>
<rect class="khr" x="474" y="752" width="10" height="19"/><text class="leg" x="490" y="766.5">KHR</text>
<rect class="hss" x="537" y="752" width="10" height="19"/><text class="leg" x="553" y="766.5">HSS</text>
<rect class="khs" x="600" y="752" width="10" height="19"/><text class="leg" x="616" y="766.5">KHS</text>
<rect class="rai" x="664" y="752" width="10" height="19"/><text class="leg" x="680" y="766.5">RAI</text>
<rect class="iss" x="727" y="752" width="10" height="19"/><text class="leg" x="743" y="766.5">ISS</text>
</g>
</svg>
